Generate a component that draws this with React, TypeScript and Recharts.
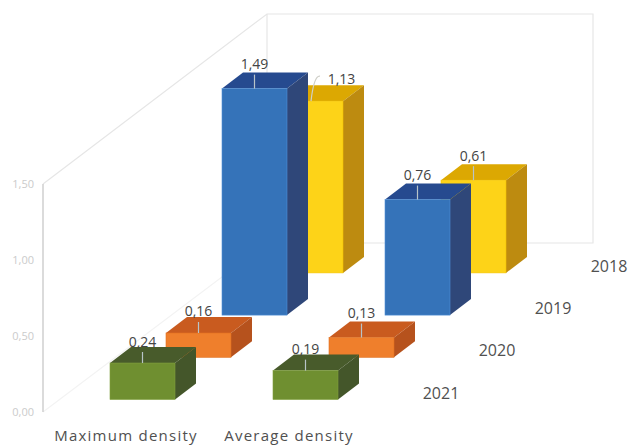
import { Bar, BarChart, XAxis, YAxis } from "recharts";

const categories = ["Maximum density", "Average density"];
const years = ["2018", "2019", "2020", "2021"];
const values2018 = [1.13, 0.61];
const values2019 = [1.49, 0.76];
const values2020 = [0.16, 0.13];
const values2021 = [0.24, 0.19];
const yTicks = [0, 0.5, 1, 1.5];

const chartData = categories.map((category, i) => ({
  category,
  "2018": values2018[i],
  "2019": values2019[i],
  "2020": values2020[i],
  "2021": values2021[i],
}));

const palette: Record<string, { front: string; top: string; side: string; edge: string }> = {
  "2018": { front: "#fdd318", top: "#dca802", side: "#bd8b10", edge: "#f5c400" },
  "2019": { front: "#3573b9", top: "#264a8f", side: "#2f4779", edge: "#4f8fd6" },
  "2020": { front: "#ef7f2c", top: "#c95b1f", side: "#b6521d", edge: "#e0701f" },
  "2021": { front: "#6f8f30", top: "#485b2b", side: "#44562a", edge: "#7f9f3d" },
};

// how far back each year sits on the depth axis
const depthSteps: Record<string, number> = { "2021": 0, "2020": 1, "2019": 2, "2018": 3 };
const STEP_X = 56;
const STEP_Y = 42.2;
const FLOOR_LIFT = 12.5;
const BOX_DX = 21;
const BOX_DY = -16;

const FONT = "'Open Sans', sans-serif";

const formatComma = (value: number) => value.toFixed(2).replace(".", ",");

function Box3D(props: any) {
  const { x, y, width, height, index, year, payload } = props;
  const step = depthSteps[year];
  const left = x + step * STEP_X;
  const top = y - FLOOR_LIFT - step * STEP_Y;
  const right = left + width;
  const bottom = top + height;
  const colors = palette[year];
  const center = left + width / 2;
  // the tall yellow bar's label sits to the right, on a curved leader
  const offsetLabel = year === "2018" && index === 0;
  const lift = offsetLabel
    ? 23
    : year === "2019" || (year === "2018" && index === 1) || (year === "2020" && index === 1)
      ? 25
      : 22;

  return (
    <g>
      <polygon
        points={`${left},${top} ${left + BOX_DX},${top + BOX_DY} ${right + BOX_DX},${top + BOX_DY} ${right},${top}`}
        fill={colors.top}
      />
      <polygon
        points={`${right},${top} ${right + BOX_DX},${top + BOX_DY} ${right + BOX_DX},${bottom + BOX_DY} ${right},${bottom}`}
        fill={colors.side}
      />
      <rect x={left} y={top} width={width} height={height} fill={colors.front} stroke={colors.edge} strokeWidth={0.6} />
      {offsetLabel ? (
        <path
          d={`M${left + 42},${top - 25} Q${left + 36},${top - 26} ${left + 33},${top}`}
          fill="none"
          stroke="#cfcfc8"
          strokeWidth={1.2}
        />
      ) : (
        <line x1={center} x2={center} y1={top - lift + 11} y2={top} stroke="#b8c4c8" strokeWidth={1.2} />
      )}
      <text
        x={offsetLabel ? center + 31 : center}
        y={top - lift}
        dy={5.5}
        textAnchor="middle"
        fontFamily={FONT}
        fontSize={14}
        fill="#444444"
      >
        {formatComma(payload[year])}
      </text>
      {index === 1 && (
        <text x={center + 135.5} y={bottom - 1} textAnchor="middle" fontFamily={FONT} fontSize={16} fill="#505050">
          {year}
        </text>
      )}
    </g>
  );
}

export default function App() {
  return (
    <div style={{ position: "absolute", left: 0, top: 0, background: "#ffffff" }}>
      <BarChart
        width={628}
        height={445}
        data={chartData}
        margin={{ top: 184, right: 241, bottom: 0, left: 0 }}
        barSize={65}
        barGap={-65}
      >
        {/* back wall and floor of the 3D box */}
        <g fill="none" stroke="#e6e6e6" strokeWidth={1.2}>
          <polyline points="43,184 267,14 593,14 593,243 267,243" />
          <line x1={267} y1={14} x2={267} y2={243} />
          <line x1={43} y1={412} x2={267} y2={243} stroke="#f3f3f3" />
        </g>
        <XAxis
          dataKey="category"
          height={33}
          axisLine={false}
          tickLine={false}
          interval={0}
          padding={{ left: 18, right: 0 }}
          tick={{ fontFamily: FONT, fontSize: 15, fontWeight: 500, letterSpacing: 1.25, fill: "#505050", dx: -16.5, dy: 10 }}
        />
        <YAxis
          width={43}
          domain={[0, 1.5]}
          ticks={yTicks}
          tickFormatter={formatComma}
          axisLine={{ stroke: "#cfcfcf", strokeWidth: 1.5 }}
          tickLine={false}
          tick={{ fontFamily: FONT, fontSize: 11, fill: "#cbcbcb", dx: -1 }}
        />
        {years.map((year) => (
          <Bar
            key={year}
            dataKey={year}
            isAnimationActive={false}
            shape={(props: any) => <Box3D {...props} year={year} />}
          />
        ))}
      </BarChart>
    </div>
  );
}
